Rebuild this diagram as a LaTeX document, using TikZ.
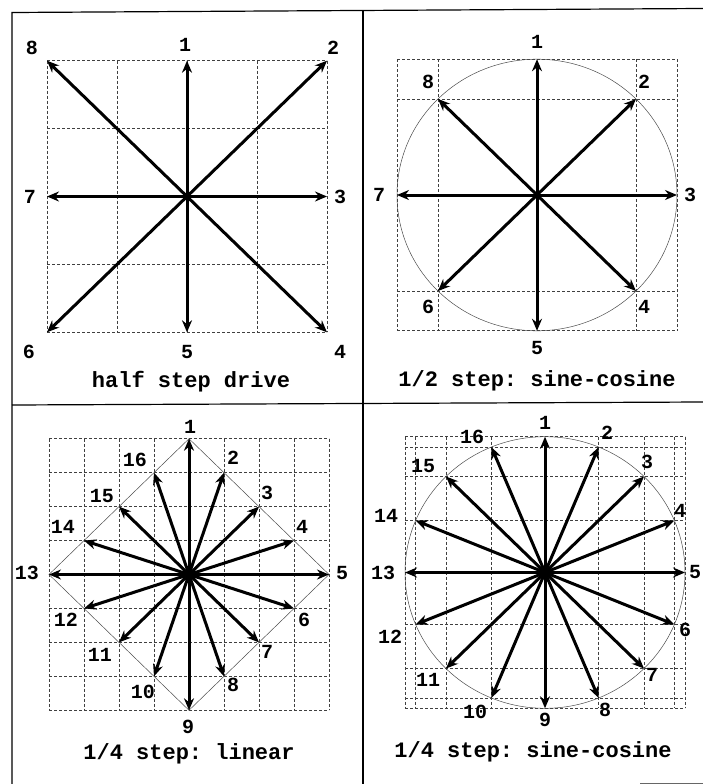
\documentclass[tikz,border=0pt]{standalone}
\usepackage{fontspec}
\setmonofont{Liberation Mono}
\usepackage{tikz}
\usetikzlibrary{arrows.meta, calc}

\begin{document}
\begin{tikzpicture}[x=1pt, y=-1pt,
    frameline/.style={line width=1.2pt},
    gridline/.style={densely dashed, line width=0.7pt, black!75},
    guide/.style={line width=0.5pt, black!70},
    arrow/.style={-{Stealth[length=12pt, width=10pt]}, line width=3pt},
    num/.style={font=\fontsize{20}{20}\selectfont\ttfamily\bfseries, inner sep=0pt},
    caption/.style={font=\fontsize{22}{22}\selectfont\ttfamily\bfseries, inner sep=0pt},
  ]
  \useasboundingbox (0,0) rectangle (703,784);
  % frame
  \draw[frameline] (12,784) -- (12,12.5) -- (703,8.5);
  \draw[frameline] (363,10.5) -- (363,784);
  \draw[frameline] (12,405) -- (703,402);
  \draw[line width=1pt, black!60] (640,783) -- (703,783);

  % half step drive
  \begin{scope}[shift={(187,196.5)}, yscale=0.97]
    \foreach \g in {-140,-70,...,140} {
      \draw[gridline] (\g,-140) -- (\g,140);
      \draw[gridline] (-140,\g) -- (140,\g);
    }
    \coordinate (c1) at (0,0);
    \foreach \k/\x/\y in {1/0/-140, 2/140/-140, 3/140/0, 4/140/140,
                          5/0/140, 6/-140/140, 7/-140/0, 8/-140/-140} {
      \coordinate (t1-\k) at (\x,\y);
      \draw[arrow] (c1) -- (t1-\k);
    }
    \foreach \k/\x/\y in {1/-2/-156, 2/146/-153, 3/153/0, 4/153/160,
                          5/0/160, 6/-158/160, 7/-157/0, 8/-155/-153}
      \node[num] (n1-\k) at (\x,\y) {\k};
    \node[caption] (cap1) at (4,191) {half step drive};
  \end{scope}

  % 1/2 step sine-cosine
  \begin{scope}[shift={(537,195)}, yscale=0.97]
    \foreach \g in {-140,-99,99,140} {
      \draw[gridline] (\g,-140) -- (\g,140);
      \draw[gridline] (-140,\g) -- (140,\g);
    }
    \draw[guide] (0,0) circle[radius=140pt];
    \coordinate (c2) at (0,0);
    \foreach \k in {1,...,8} {
      \coordinate (t2-\k) at ({140*cos(90-45*(\k-1))},{-140*sin(90-45*(\k-1))});
      \draw[arrow] (c2) -- (t2-\k);
    }
    \foreach \k/\x/\y in {1/0/-158, 2/107/-117, 3/153/0, 4/107/115,
                          5/0/158, 6/-109/115, 7/-158/0, 8/-109/-117}
      \node[num] (n2-\k) at (\x,\y) {\k};
    \node[caption] (cap2) at (0,192) {1/2 step: sine-cosine};
  \end{scope}

  % 1/4 step linear
  \begin{scope}[shift={(189,574.5)}, yscale=0.97]
    \foreach \g in {-140,-105,...,140} {
      \draw[gridline] (\g,-140) -- (\g,140);
      \draw[gridline] (-140,\g) -- (140,\g);
    }
    \coordinate (c3) at (0,0);
    \foreach \k/\x/\y in {1/0/-4, 2/1/-3, 3/2/-2, 4/3/-1, 5/4/0, 6/3/1, 7/2/2, 8/1/3,
                          9/0/4, 10/-1/3, 11/-2/2, 12/-3/1, 13/-4/0, 14/-3/-1, 15/-2/-2, 16/-1/-3}
      \coordinate (t3-\k) at ({35*\x},{35*\y});
    \draw[guide] (t3-1) -- (t3-5) -- (t3-9) -- (t3-13) -- cycle;
    \foreach \k in {1,...,16}
      \draw[arrow] (c3) -- (t3-\k);
    \foreach \k/\x/\y in {1/1/-152, 2/44/-120, 3/78/-84, 4/113/-49,
                          5/153/-2, 6/115/47, 7/78/80, 8/44/114,
                          9/-1/157, 10/-46/121, 11/-89/83, 12/-123/47,
                          13/-162/-2, 14/-126/-49, 15/-87/-81, 16/-54/-118}
      \node[num] (n3-\k) at (\x,\y) {\k};
    \node[caption] (cap3) at (0,185) {1/4 step: linear};
  \end{scope}

  % 1/4 step sine-cosine
  \begin{scope}[shift={(545,572.5)}, yscale=0.97]
    \foreach \g in {-140,-129.3,-99,-53.6,53.6,99,129.3,140} {
      \draw[gridline] (\g,-140) -- (\g,140);
      \draw[gridline] (-140,\g) -- (140,\g);
    }
    \draw[guide] (0,0) circle[radius=140pt];
    \coordinate (c4) at (0,0);
    \foreach \k in {1,...,16} {
      \coordinate (t4-\k) at ({140*cos(90-22.5*(\k-1))},{-140*sin(90-22.5*(\k-1))});
      \draw[arrow] (c4) -- (t4-\k);
    }
    \foreach \k/\x/\y in {1/0/-154, 2/62/-144, 3/102/-114, 4/135/-64,
                          5/150/0, 6/140/59, 7/107/106, 8/60/142,
                          9/0/152, 10/-70/144, 11/-117/111, 12/-155/66,
                          13/-162/0, 14/-159/-58, 15/-122/-110, 16/-73/-140}
      \node[num] (n4-\k) at (\x,\y) {\k};
    \node[caption] (cap4) at (-12,185) {1/4 step: sine-cosine};
  \end{scope}
\end{tikzpicture}
\end{document}
